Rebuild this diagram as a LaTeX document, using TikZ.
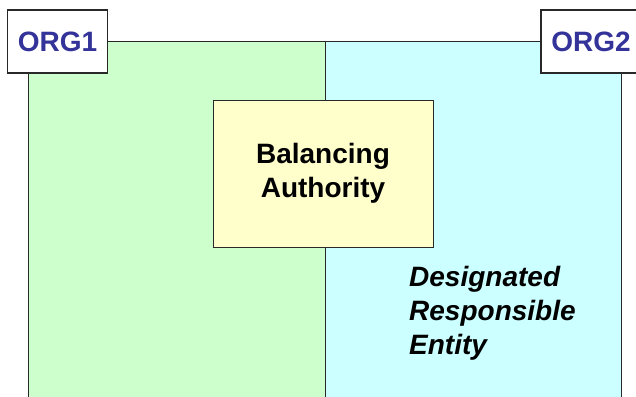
\documentclass[tikz,border=0pt]{standalone}
\usepackage{fontspec}
\setmainfont{Liberation Sans}
\usepackage{tikz}
\definecolor{orgone}{RGB}{204, 255, 204}
\definecolor{orgtwo}{RGB}{204, 255, 255}
\definecolor{authority}{RGB}{255, 255, 204}
\definecolor{orgtext}{RGB}{51, 51, 153}
\definecolor{edge}{RGB}{40, 40, 40}

\begin{document}
\begin{tikzpicture}[x=1pt, y=-1pt,
    area/.style={draw=edge, line width=1pt}, % regioes das organizacoes
    orgbox/.style={draw=edge, line width=1.3pt, fill=white, minimum width=100pt,
      minimum height=63pt, inner sep=0pt, font=\fontsize{28}{34}\selectfont\bfseries,
      text=orgtext},
    babox/.style={draw=edge, line width=1pt, fill=authority, minimum width=220pt,
      minimum height=147pt, inner sep=0pt, align=center,
      font=\fontsize{28}{34}\selectfont\bfseries},
    dretext/.style={inner sep=0pt, align=left,
      font=\fontsize{28}{34}\selectfont\bfseries\itshape},
  ]
  \useasboundingbox (0,0) rectangle (636,396);
  % regioes
  \filldraw[area, fill=orgone] (28.5,42) rectangle (325,410);
  \filldraw[area, fill=orgtwo] (325,42) rectangle (621,410);
  % caixas
  \node[orgbox] (org1) at (57.5,41.5) {ORG1};
  \node[orgbox] (org2) at (591,41.5) {ORG2};
  \node[babox] (ba) at (323,173.5) {Balancing\\Authority};
  \node[dretext, anchor=north west] (dre) at (409,265.6)
    {Designated\\Responsible\\Entity};
\end{tikzpicture}
\end{document}
